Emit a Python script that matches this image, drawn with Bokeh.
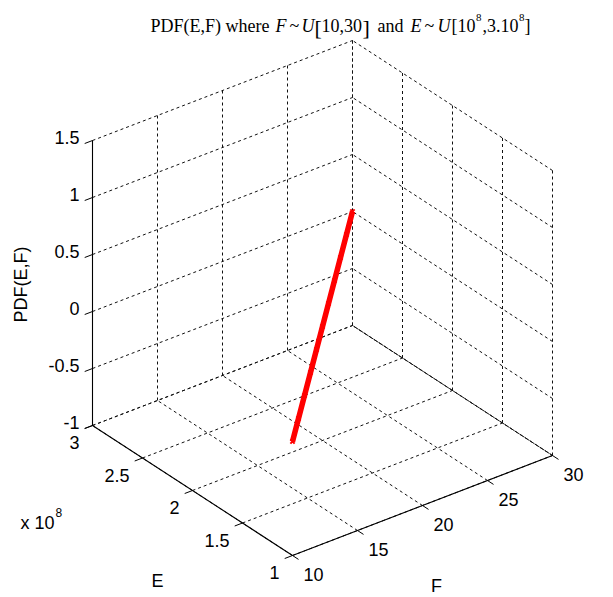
import numpy as np
from bokeh.plotting import figure
from bokeh.models import Range1d
from bokeh.core.properties import value
from bokeh.embed import file_html
from bokeh.resources import INLINE

# ---------------- data ----------------
f_line = [10, 12, 14, 16, 18, 20, 22, 24, 26, 28, 30]
e_line = [1.0e8, 1.2e8, 1.4e8, 1.6e8, 1.8e8, 2.0e8, 2.2e8, 2.4e8, 2.6e8, 2.8e8, 3.0e8]
pdf_line = [2.5e-10] * 11

f_ticks = [10, 15, 20, 25, 30]
e_ticks = [1.0e8, 1.5e8, 2.0e8, 2.5e8, 3.0e8]
z_ticks = [-1, -0.5, 0, 0.5, 1, 1.5]
f_tick_labels = ["10", "15", "20", "25", "30"]
e_tick_labels = ["1", "1.5", "2", "2.5", "3"]
z_tick_labels = ["-1", "-0.5", "0", "0.5", "1", "1.5"]

F0, F1 = 10, 30
E0, E1 = 1.0e8, 3.0e8
Z0, Z1 = -1, 1.5

# ---------------- projection (3-D box -> page pixels) ----------------
ORIGIN = (292.0, 555.0)
F_VEC = (260.0, -100.0)
E_VEC = (-200.0, -130.0)
Z_VEC = (0.0, -285.0)


def proj(f, e, z):
    f = np.asarray(f, dtype=float)
    e = np.asarray(e, dtype=float)
    z = np.asarray(z, dtype=float)
    tf = (f - F0) / (F1 - F0)
    te = (e - E0) / (E1 - E0)
    tz = (z - Z0) / (Z1 - Z0)
    x = ORIGIN[0] + tf * F_VEC[0] + te * E_VEC[0] + tz * Z_VEC[0]
    y = ORIGIN[1] + tf * F_VEC[1] + te * E_VEC[1] + tz * Z_VEC[1]
    return x, y


W, H = 613, 597
p = figure(width=W, height=H, x_range=Range1d(0, W), y_range=Range1d(H, 0),
           x_axis_type=None, y_axis_type=None, min_border=0,
           toolbar_location=None, output_backend="svg",
           outline_line_color=None, background_fill_color="white",
           border_fill_color="white")
p.grid.visible = False

# ---------------- grid (dashed) ----------------
gx, gy = [], []


def seg(a, b):
    x, y = proj([a[0], b[0]], [a[1], b[1]], [a[2], b[2]])
    gx.append(list(x))
    gy.append(list(y))


# back wall E = E1
for f in f_ticks:
    seg((f, E1, Z0), (f, E1, Z1))
for z in z_ticks:
    seg((F0, E1, z), (F1, E1, z))
# back wall F = F1
for e in e_ticks:
    seg((F1, e, Z0), (F1, e, Z1))
for z in z_ticks:
    seg((F1, E0, z), (F1, E1, z))
# floor Z = Z0
for f in f_ticks:
    seg((f, E0, Z0), (f, E1, Z0))
for e in e_ticks:
    seg((F0, e, Z0), (F1, e, Z0))

p.multi_line(gx, gy, line_color="#111111", line_width=1, line_dash="3 3")
# second pass with a shifted dash phase on the floor edge, as in the reference
ex, ey = proj([F1, F1], [E1, E0], [Z0, Z0])
p.line(ex, ey, line_color="#111111", line_width=1, line_dash="3 3", line_dash_offset=2)

# ---------------- solid axes ----------------
ax_x, ax_y = [], []
for a, b in [((F0, E1, Z0), (F0, E1, Z1)),
             ((F0, E0, Z0), (F0, E1, Z0)),
             ((F0, E0, Z0), (F1, E0, Z0))]:
    x, y = proj([a[0], b[0]], [a[1], b[1]], [a[2], b[2]])
    ax_x.append(list(x))
    ax_y.append(list(y))
p.multi_line(ax_x, ax_y, line_color="black", line_width=1.1)

# tick marks
tx, ty = [], []
for z in z_ticks:
    x, y = proj([F0, F0 - 0.6], [E1, E1], [z, z])
    tx.append(list(x)); ty.append(list(y))
for e in e_ticks:
    x, y = proj([F0, F0 - 0.6], [e, e], [Z0, Z0])
    tx.append(list(x)); ty.append(list(y))
for f in f_ticks:
    x, y = proj([f, f], [E0, E0 - 0.06e8], [Z0, Z0])
    tx.append(list(x)); ty.append(list(y))
p.multi_line(tx, ty, line_color="black", line_width=1)

# ---------------- data line ----------------
lx, ly = proj(f_line, e_line, pdf_line)
p.line(lx, ly, line_color="#ff0000", line_width=5.5)
p.scatter(lx, ly, marker="x", size=6, line_color="#ff0000", line_width=2)

# ---------------- tick labels ----------------
SANS = value("Liberation Sans")
LBL = "18px"
zx, zy = proj([F0] * len(z_ticks), [E1] * len(z_ticks), z_ticks)
p.text(zx - 13, zy - 3, text=z_tick_labels, text_font=SANS, text_font_size=LBL,
       text_align="right", text_baseline="middle", text_color="black")
exx, eyy = proj([F0] * len(e_ticks), e_ticks, [Z0] * len(e_ticks))
p.text(exx - 13, eyy + 17, text=e_tick_labels, text_font=SANS, text_font_size=LBL,
       text_align="right", text_baseline="middle", text_color="black")
fxx, fyy = proj(f_ticks, [E0] * len(f_ticks), [Z0] * len(f_ticks))
p.text(fxx + 11, fyy + 19, text=f_tick_labels, text_font=SANS, text_font_size=LBL,
       text_align="left", text_baseline="middle", text_color="black")

# ---------------- axis labels ----------------
p.text([20], [284], text=["PDF(E,F)"], angle=np.pi / 2, text_font=SANS, text_font_size=LBL,
       text_align="center", text_baseline="middle", text_color="black")
p.text([157], [580], text=["E"], text_font=SANS, text_font_size=LBL,
       text_align="center", text_baseline="middle", text_color="black")
p.text([436], [585], text=["F"], text_font=SANS, text_font_size=LBL,
       text_align="center", text_baseline="middle", text_color="black")
p.text([20], [522], text=["x 10"], text_font=SANS, text_font_size=LBL,
       text_align="left", text_baseline="middle", text_color="black")
p.text([55], [512], text=["8"], text_font=SANS, text_font_size="12px",
       text_align="left", text_baseline="middle", text_color="black")

# ---------------- title ----------------
SERIF = value("Liberation Serif")
TY = 25
pieces = [
    (150, "PDF(E,F) where", "normal", "18px", TY),
    (275, "F", "italic", "18px", TY),
    (289, "~", "normal", "18px", TY),
    (301, "U", "italic", "18px", TY),
    (314, "[", "normal", "22px", TY + 2),
    (321, "10,30", "normal", "18px", TY),
    (362, "]", "normal", "22px", TY + 2),
    (377, "and", "normal", "18px", TY),
    (410, "E", "italic", "18px", TY),
    (424, "~", "normal", "18px", TY),
    (437, "U", "italic", "18px", TY),
    (451, "[10", "normal", "18px", TY),
    (475.5, "8", "normal", "11px", TY - 8),
    (482, ",3.10", "normal", "18px", TY),
    (518.5, "8", "normal", "11px", TY - 8),
    (524, "]", "normal", "18px", TY),
]
for x, t, style, size, y in pieces:
    p.text([x], [y], text=[t], text_font=SERIF, text_font_size=size,
           text_font_style=style, text_align="left", text_baseline="alphabetic",
           text_color="black")

open("out.html", "w").write(file_html(p, INLINE))
